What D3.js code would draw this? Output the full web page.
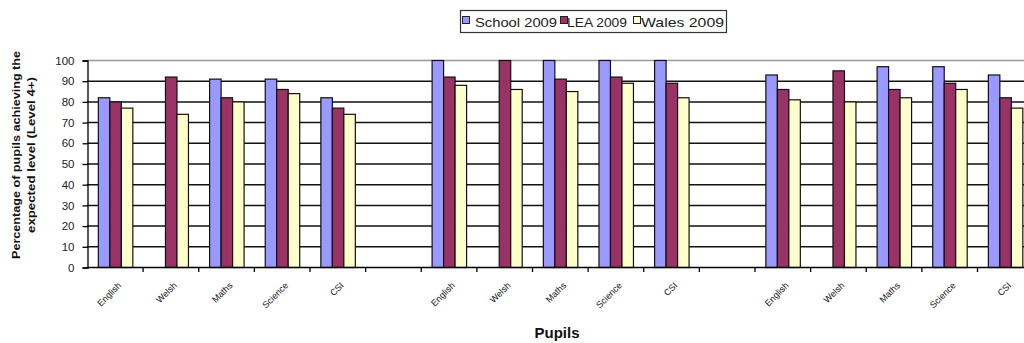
<!DOCTYPE html>
<html><head><meta charset="utf-8">
<script src="https://cdn.jsdelivr.net/npm/d3@7"></script>
<style>body{margin:0;background:#fff}svg{display:block}</style>
</head><body>
<svg id="c" width="1024" height="343"></svg>
<script>
const subjects = ["English","Welsh","Maths","Science","CSI"];
const categories = ["English","Welsh","Maths","Science","CSI","",
                    "English","Welsh","Maths","Science","CSI","",
                    "English","Welsh","Maths","Science","CSI"];
const seriesNames = ["School 2009","LEA 2009","Wales 2009"];
const school2009 = [82,null,91,91,82,null,100,null,100,100,100,null,93,null,97,97,93];
const lea2009    = [80,92,82,86,77,null,92,100,91,92,89,null,86,95,86,89,82];
const wales2009  = [77,74,80,84,74,null,88,86,85,89,82,null,81,80,82,86,77];
const yTicks = [0,10,20,30,40,50,60,70,80,90,100];
const colors = ["#9999FF","#993366","#FFFFCC"];

(function(){
const svg = d3.select("#c");
const pLeft = 87, pTop = 60, pBottom = 267, catW = 55.625;
const pRight = pLeft + catW*categories.length;
const x0 = d3.scaleBand().domain(d3.range(categories.length)).range([pLeft,pRight]).paddingInner(0).paddingOuter(0);
const x1 = d3.scaleBand().domain(d3.range(3)).range([x0.bandwidth()*0.195, x0.bandwidth()*0.815]);
const y = d3.scaleLinear().domain([0,100]).range([pBottom,pTop]);

// gridlines
svg.append("g").selectAll("line").data(yTicks.filter(t=>t>0)).join("line")
  .attr("x1",pLeft).attr("x2",pRight).attr("y1",d=>y(d)+0.5).attr("y2",d=>y(d)+0.5)
  .attr("stroke",d=>d===100?"#999":"#111").attr("stroke-width",1.5);

// bars
const series = [school2009, lea2009, wales2009];
const bars = [];
series.forEach((arr,s)=>arr.forEach((v,i)=>{ if(v!=null) bars.push({s,i,v}); }));
svg.append("g").selectAll("rect").data(bars).join("rect")
  .attr("x",d=>x0(d.i)+x1(d.s)+0.5)
  .attr("y",d=>y(Math.min(d.v,100))+0.5)
  .attr("width",x1.bandwidth())
  .attr("height",d=>y(0)-y(Math.min(d.v,100)))
  .attr("fill",d=>colors[d.s]).attr("stroke","#111").attr("stroke-width",1.2);

// y axis
const yAxis = d3.axisLeft(y).tickValues(yTicks).tickSize(5).tickPadding(8);
const gy = svg.append("g").attr("transform",`translate(${pLeft+0.5},0.5)`).call(yAxis);
gy.select(".domain").attr("stroke","#000").attr("stroke-width",1.3);
gy.selectAll(".tick line").attr("stroke","#000").attr("stroke-width",1.3);
gy.selectAll("text").attr("font-family","Liberation Sans, Arial, sans-serif").attr("font-size",11.5).attr("fill","#222");

// x axis line and ticks at boundaries
svg.append("line").attr("x1",pLeft).attr("x2",pRight).attr("y1",pBottom+0.5).attr("y2",pBottom+0.5)
  .attr("stroke","#000").attr("stroke-width",1.5);
svg.append("g").selectAll("line").data(d3.range(1,categories.length)).join("line")
  .attr("x1",d=>x0(d)+0.5).attr("x2",d=>x0(d)+0.5).attr("y1",pBottom).attr("y2",pBottom+5)
  .attr("stroke","#000").attr("stroke-width",1.3);

// x labels
svg.append("g").selectAll("text").data(categories.map((c,i)=>({c,i})).filter(d=>d.c)).join("text")
  .attr("transform",d=>`translate(${x0(d.i)+x0.bandwidth()/2+7},${pBottom+19}) rotate(-45)`)
  .attr("text-anchor","end").attr("font-family","Liberation Sans, Arial, sans-serif")
  .attr("font-size",9).attr("fill","#111").text(d=>d.c);

// axis titles
svg.append("text").attr("x",557).attr("y",338).attr("text-anchor","middle")
  .attr("font-family","Liberation Sans, Arial, sans-serif").attr("font-weight","bold")
  .attr("font-size",15).attr("fill","#111").text("Pupils");
const yt = svg.append("text").attr("transform","translate(20,155) rotate(-90)")
  .attr("text-anchor","middle").attr("font-family","Liberation Sans, Arial, sans-serif")
  .attr("font-weight","bold").attr("font-size",10.5).attr("fill","#111");
yt.append("tspan").attr("x",0).attr("dy",0).attr("textLength",208).attr("lengthAdjust","spacingAndGlyphs").text("Percentage of pupils achieving the");
yt.append("tspan").attr("x",0).attr("dy",15).attr("textLength",156).attr("lengthAdjust","spacingAndGlyphs").text("expected level (Level 4+)");

// legend
const lg = svg.append("g");
lg.append("rect").attr("x",460.5).attr("y",10.5).attr("width",266).attr("height",22)
  .attr("fill","#fff").attr("stroke","#333").attr("stroke-width",1.2);
const legX = [462,560,633], legTextX = [475,567,641], legW = [82,60,83];
seriesNames.forEach((n,i)=>{
  lg.append("rect").attr("x",legX[i]+0.5).attr("y",16.5).attr("width",7).attr("height",7)
    .attr("fill",colors[i]).attr("stroke","#222").attr("stroke-width",1);
  lg.append("text").attr("x",legTextX[i]).attr("y",27).attr("font-family","Liberation Sans, Arial, sans-serif")
    .attr("font-size",13).attr("fill","#222").attr("textLength",legW[i]).attr("lengthAdjust","spacingAndGlyphs").text(n);
});
})();
</script>
</body></html>
